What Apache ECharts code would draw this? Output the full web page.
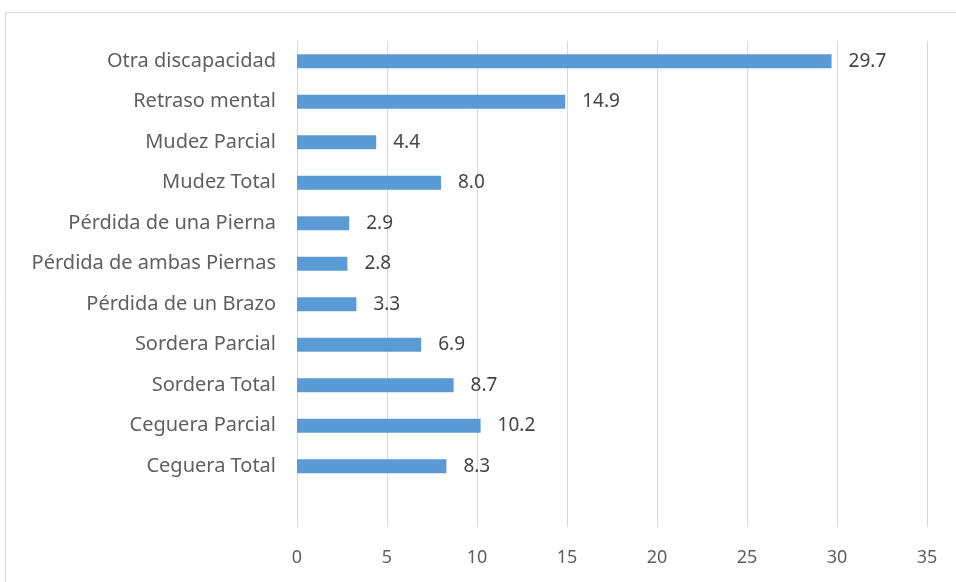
<!DOCTYPE html>
<html><head><meta charset="utf-8">
<script src="https://cdn.jsdelivr.net/npm/echarts@6/dist/echarts.min.js"></script>
<style>html,body{margin:0;padding:0;background:#fff}#c{width:956px;height:582px}</style>
</head><body><div id="c"></div>
<script>
const categories = ['', 'Ceguera Total', 'Ceguera Parcial', 'Sordera Total', 'Sordera Parcial', 'Pérdida de un Brazo', 'Pérdida de ambas Piernas', 'Pérdida de una Pierna', 'Mudez Total', 'Mudez Parcial', 'Retraso mental', 'Otra discapacidad'];
const values = [null, 8.3, 10.2, 8.7, 6.9, 3.3, 2.8, 2.9, 8.0, 4.4, 14.9, 29.7];
const xTicks = [0, 5, 10, 15, 20, 25, 30, 35];

const chart = echarts.init(document.getElementById('c'), null, {renderer: 'canvas'});
const font = '"Noto Sans", sans-serif';
chart.setOption({
  animation: false,
  graphic: [{type: 'rect', shape: {x: 5.5, y: 12.5, width: 1000, height: 1000}, style: {fill: 'none', stroke: '#d9d9d9', lineWidth: 1}}],
  grid: {left: 297, right: 29, top: 41, bottom: 55, containLabel: false},
  xAxis: {
    type: 'value', min: xTicks[0], max: xTicks[xTicks.length - 1], interval: 5,
    axisLine: {show: false}, axisTick: {show: false},
    splitLine: {lineStyle: {color: '#d9d9d9', width: 1}},
    axisLabel: {color: '#5f5f5f', fontFamily: font, fontSize: 18, margin: 22}
  },
  yAxis: {
    type: 'category', data: categories,
    axisLine: {show: false}, axisTick: {show: false},
    axisLabel: {color: '#5f5f5f', fontFamily: font, fontSize: 20, margin: 21}
  },
  series: [{
    type: 'bar', data: values, barWidth: 14,
    itemStyle: {color: '#5b9bd5'},
    label: {show: true, position: 'right', distance: 17, color: '#454545', fontFamily: font, fontSize: 19,
      formatter: p => p.value == null ? '' : Number(p.value).toFixed(1)}
  }]
});
</script></body></html>
